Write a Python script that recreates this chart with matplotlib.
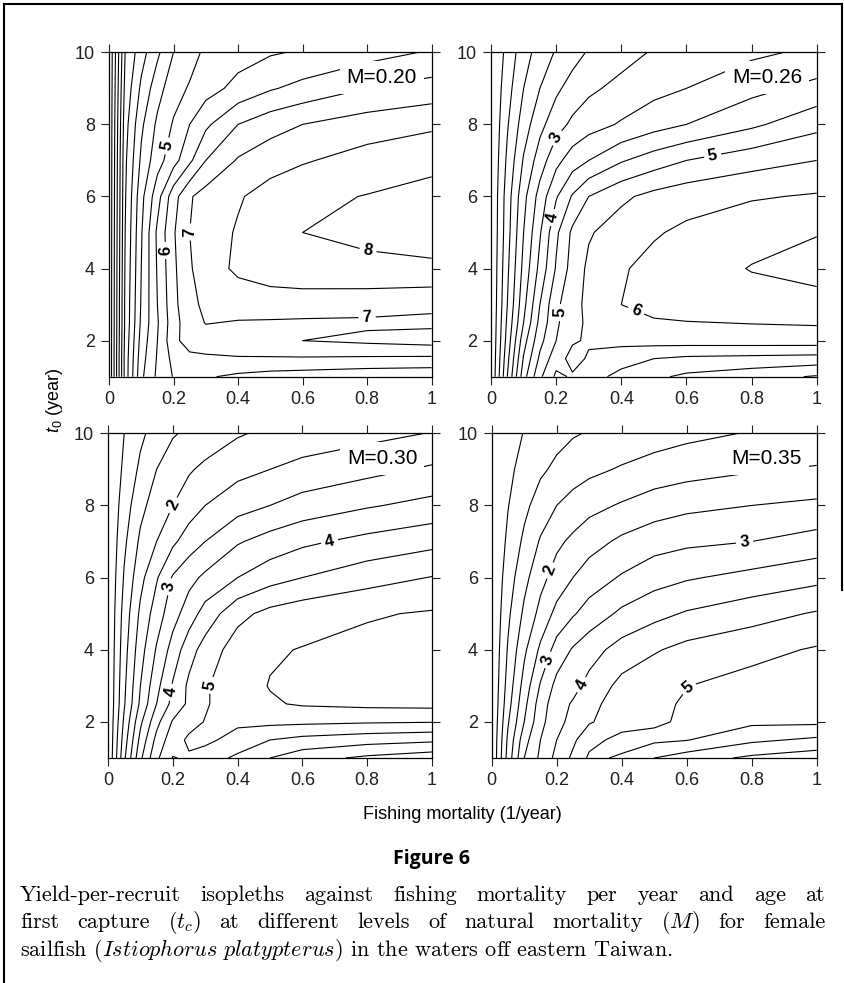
import numpy as np
import matplotlib
matplotlib.use("Agg")
import matplotlib.pyplot as plt
from matplotlib.lines import Line2D

# grid of the yield-per-recruit surfaces
F = [0, 0.05, 0.1, 0.15, 0.2, 0.25, 0.3, 0.4, 0.5, 0.6, 0.8, 1.0]   # fishing mortality (1/year)
TC = [1, 1.5, 2, 2.5, 3, 4, 5, 6, 7, 8, 9, 10]                       # age at first capture (year)

# yield per recruit, one row per TC value
ypr_m020 = [
    [0, 3.2, 4.9, 5.6, 6.03, 6.1, 6.05, 5.9, 5.8, 5.75, 5.65, 5.6],
    [0, 3.2, 4.8, 5.55, 6.15, 6.35, 6.4, 6.45, 6.45, 6.45, 6.42, 6.4],
    [0, 3.15, 4.7, 5.5, 6.35, 6.75, 6.8, 6.85, 6.9, 7.0, 7.1, 7.2],
    [0, 3.1, 4.6, 5.45, 6.3, 6.8, 7.02, 6.97, 6.95, 6.93, 6.92, 6.9],
    [0, 3.1, 4.55, 5.5, 6.35, 6.9, 7.08, 7.2, 7.25, 7.25, 7.2, 7.1],
    [0, 3.05, 4.5, 5.55, 6.4, 6.95, 7.25, 7.6, 7.75, 7.82, 7.88, 7.92],
    [0, 3.0, 4.45, 5.6, 6.45, 7.0, 7.25, 7.55, 7.8, 8.0, 8.12, 8.2],
    [0, 2.95, 4.35, 5.3, 6.3, 6.95, 7.2, 7.45, 7.7, 7.88, 8.02, 8.12],
    [0, 2.9, 4.1, 4.8, 5.3, 5.9, 6.5, 7.05, 7.3, 7.45, 7.7, 7.9],
    [0, 2.8, 3.9, 4.6, 5.05, 5.5, 5.9, 6.5, 6.8, 7.0, 7.25, 7.4],
    [0, 2.65, 3.6, 4.3, 4.8, 5.05, 5.3, 5.65, 5.95, 6.15, 6.5, 6.7],
    [0, 2.5, 3.3, 3.9, 4.5, 4.8, 5.1, 5.3, 5.45, 5.55, 5.8, 6.05],
]
ypr_m026 = [
    [0, 2.0, 3.8, 4.9, 5.6, 5.45, 5.2, 4.85, 4.6, 4.4, 4.2, 3.95],
    [0, 1.85, 3.55, 4.6, 5.3, 5.65, 5.45, 5.2, 5.0, 4.9, 4.85, 4.8],
    [0, 1.7, 3.3, 4.35, 5.0, 5.45, 5.55, 5.65, 5.7, 5.72, 5.74, 5.75],
    [0, 1.6, 3.0, 4.15, 4.92, 5.32, 5.6, 5.85, 5.95, 5.98, 6.02, 6.05],
    [0, 1.5, 2.85, 4.0, 4.9, 5.3, 5.65, 6.0, 6.15, 6.25, 6.32, 6.35],
    [0, 1.4, 2.65, 3.65, 4.55, 5.2, 5.6, 5.95, 6.15, 6.3, 6.52, 6.65],
    [0, 1.3, 2.5, 3.45, 4.4, 5.1, 5.45, 5.75, 5.95, 6.1, 6.35, 6.48],
    [0, 1.25, 2.35, 3.2, 3.95, 4.55, 5.0, 5.4, 5.65, 5.8, 5.95, 6.05],
    [0, 1.1, 2.05, 2.75, 3.35, 3.75, 4.0, 4.45, 4.75, 5.0, 5.3, 5.5],
    [0, 0.95, 1.75, 2.35, 2.8, 3.1, 3.3, 3.55, 3.8, 4.0, 4.4, 4.85],
    [0, 0.8, 1.5, 2.0, 2.4, 2.7, 2.9, 3.15, 3.35, 3.5, 3.85, 4.15],
    [0, 0.65, 1.3, 1.7, 2.05, 2.3, 2.55, 2.8, 3.05, 3.15, 3.4, 3.6],
]
ypr_m030 = [
    [0, 1.9, 3.4, 4.4, 5.02, 4.95, 4.75, 4.4, 4.0, 3.7, 3.4, 3.2],
    [0, 1.75, 3.15, 4.15, 4.8, 5.08, 5.12, 4.8, 4.5, 4.35, 4.2, 4.1],
    [0, 1.6, 2.9, 3.85, 4.55, 4.85, 5.02, 5.1, 5.12, 5.1, 5.05, 5.02],
    [0, 1.45, 2.6, 3.5, 4.15, 4.6, 4.95, 5.3, 5.45, 5.55, 5.62, 5.65],
    [0, 1.4, 2.5, 3.35, 4.05, 4.6, 4.95, 5.3, 5.52, 5.6, 5.68, 5.72],
    [0, 1.3, 2.3, 3.05, 3.7, 4.3, 4.7, 5.25, 5.45, 5.52, 5.65, 5.75],
    [0, 1.2, 2.1, 2.75, 3.3, 3.75, 4.2, 4.85, 5.15, 5.3, 5.45, 5.55],
    [0, 1.05, 1.85, 2.45, 3.05, 3.35, 3.6, 4.0, 4.3, 4.5, 4.8, 5.02],
    [0, 0.9, 1.6, 2.0, 2.4, 2.75, 3.0, 3.45, 3.7, 3.9, 4.15, 4.35],
    [0, 0.75, 1.35, 1.75, 2.0, 2.25, 2.5, 2.8, 3.0, 3.2, 3.45, 3.65],
    [0, 0.6, 1.1, 1.5, 1.8, 1.95, 2.1, 2.35, 2.5, 2.65, 2.85, 3.07],
    [0, 0.5, 0.9, 1.2, 1.45, 1.6, 1.72, 1.95, 2.1, 2.2, 2.35, 2.52],
]
ypr_m035 = [
    [0, 1.7, 3.0, 3.6, 4.15, 4.6, 5.08, 4.95, 4.5, 4.25, 3.9, 3.7],
    [0, 1.6, 2.8, 3.5, 4.0, 4.4, 4.85, 5.15, 5.1, 5.02, 4.6, 4.4],
    [0, 1.45, 2.5, 3.35, 3.85, 4.15, 4.45, 4.8, 4.95, 5.05, 5.1, 5.1],
    [0, 1.3, 2.35, 3.25, 3.8, 4.05, 4.35, 4.75, 4.9, 5.05, 5.22, 5.3],
    [0, 1.2, 2.2, 3.05, 3.65, 3.85, 4.15, 4.65, 4.85, 4.99, 5.18, 5.3],
    [0, 1.05, 1.9, 2.6, 3.2, 3.55, 3.8, 4.2, 4.45, 4.65, 4.85, 5.05],
    [0, 0.9, 1.6, 2.15, 2.65, 2.95, 3.2, 3.6, 3.85, 4.05, 4.3, 4.55],
    [0, 0.75, 1.35, 1.85, 2.2, 2.5, 2.75, 3.05, 3.3, 3.45, 3.65, 3.85],
    [0, 0.6, 1.1, 1.55, 1.9, 2.1, 2.3, 2.6, 2.8, 2.9, 3.0, 3.2],
    [0, 0.48, 0.88, 1.22, 1.5, 1.7, 1.85, 2.05, 2.25, 2.38, 2.5, 2.6],
    [0, 0.38, 0.68, 0.92, 1.1, 1.25, 1.38, 1.55, 1.7, 1.8, 1.95, 2.05],
    [0, 0.3, 0.52, 0.7, 0.85, 0.96, 1.03, 1.15, 1.27, 1.38, 1.53, 1.6],
]

natural_mortality = ["M=0.20", "M=0.26", "M=0.30", "M=0.35"]
top_level = [8.0, 6.5, 5.5, 5.0]
labelled_levels = [[5, 6, 7, 8], [3, 4, 5, 6], [2, 3, 4, 5], [2, 3, 4, 5]]

xtick_vals = [0, 0.2, 0.4, 0.6, 0.8, 1]
xtick_text = ["0", "0.2", "0.4", "0.6", "0.8", "1"]
ytick_vals = [2, 4, 6, 8, 10]

caption = [
    "Yield-per-recruit isopleths against fishing mortality per year and age at",
    r"first capture ($t_c$) at different levels of natural mortality ($M$) for female",
    r"sailfish ($\mathit{Istiophorus\ platypterus}$) in the waters off eastern Taiwan.",
]

plt.rcParams['font.family'] = ['Liberation Sans', 'DejaVu Sans']
plt.rcParams['mathtext.fontset'] = 'custom'
plt.rcParams['mathtext.rm'] = 'Liberation Sans'
plt.rcParams['mathtext.it'] = 'Liberation Sans:italic'

fig = plt.figure(figsize=(8.45, 9.83), dpi=100)

boxes = [
    (0.1290, 0.6168, 0.3818, 0.3300),
    (0.5811, 0.6168, 0.3854, 0.3300),
    (0.1278, 0.2289, 0.3834, 0.3303),
    (0.5819, 0.2289, 0.3846, 0.3303),
]
# where the contour numbers sit (F, tc)
label_spots = [
    [(0.18, 7.4), (0.165, 4.5), (0.27, 5.0), (0.8, 4.3), (0.8, 2.65)],
    [(0.19, 7.67), (0.186, 5.42), (0.207, 2.78), (0.678, 7.25), (0.442, 2.75)],
    [(0.19, 8.06), (0.186, 5.75), (0.18, 2.84), (0.683, 7.04), (0.315, 3.02)],
    [(0.179, 6.2), (0.179, 3.7), (0.272, 3.05), (0.777, 7.09), (0.6, 3.0)],
]

surfaces = [ypr_m020, ypr_m026, ypr_m030, ypr_m035]

for i, grid in enumerate(surfaces):
    ax = fig.add_axes(boxes[i])
    Z = np.array(grid)
    levels = np.arange(0.5, top_level[i] + 0.01, 0.5)
    plain = [v for v in levels if v not in labelled_levels[i]]
    ax.contour(F, TC, Z, levels=plain, colors='black', linewidths=0.8)
    cs = ax.contour(F, TC, Z, levels=labelled_levels[i], colors='black', linewidths=0.8)
    texts = ax.clabel(cs, manual=label_spots[i], inline=True, inline_spacing=4,
                      fmt='%d', fontsize=12)
    for t in texts:
        t.set_fontweight('bold')
        # near-vertical labels read upwards
        r = t.get_rotation()
        if 200 < r < 315:
            t.set_rotation(r - 180)

    ax.text(0.955, 9.3, natural_mortality[i], ha='right', va='center', fontsize=15,
            bbox=dict(facecolor='white', edgecolor='none', pad=5), zorder=5)

    ax.set_xlim(0, 1)
    ax.set_ylim(1, 10)
    ax.set_xticks(xtick_vals)
    ax.set_xticklabels(xtick_text)
    ax.set_yticks(ytick_vals)
    ax.tick_params(direction='out', top=True, right=True, length=6, width=0.8,
                   labelsize=13, pad=4, colors='#222222')
    for sp in ax.spines.values():
        sp.set_linewidth(0.9)

fig.text(0.065, 0.593, r'$t_0$ (year)', rotation=90, ha='center', va='center', fontsize=13)
fig.text(0.547, 0.171, 'Fishing mortality (1/year)', ha='center', va='center', fontsize=13)

fig.text(0.511, 0.121, 'Figure 6', family='Open Sans', weight='bold', fontsize=14,
         ha='center', va='baseline')

# caption: first two lines justified to the full text width
cap_left, cap_right = 20, 825
cap_base = [0.0835, 0.0555, 0.0275]
cap_style = dict(family='cmr10', math_fontfamily='cm', fontsize=16, va='baseline')
renderer = fig.canvas.get_renderer()
for k, line in enumerate(caption):
    if k == 2:
        fig.text(cap_left / 845, cap_base[k], line, ha='left', **cap_style)
        continue
    words = [fig.text(0, cap_base[k], w, ha='left', **cap_style) for w in line.split(' ')]
    widths = [w.get_window_extent(renderer).width for w in words]
    gap = (cap_right - cap_left - sum(widths)) / (len(words) - 1)
    x = cap_left
    for w, wd in zip(words, widths):
        w.set_x(x / 845)
        x += wd + gap

# page frame
frame = dict(transform=fig.transFigure, color='black', lw=1.5)
fig.add_artist(Line2D([0.005, 0.005], [0.0, 0.996], **frame))
fig.add_artist(Line2D([0.005, 0.996], [0.996, 0.996], **frame))
fig.add_artist(Line2D([0.996, 0.996], [0.996, 0.4], **frame))

fig.savefig('out.png', dpi=100)
